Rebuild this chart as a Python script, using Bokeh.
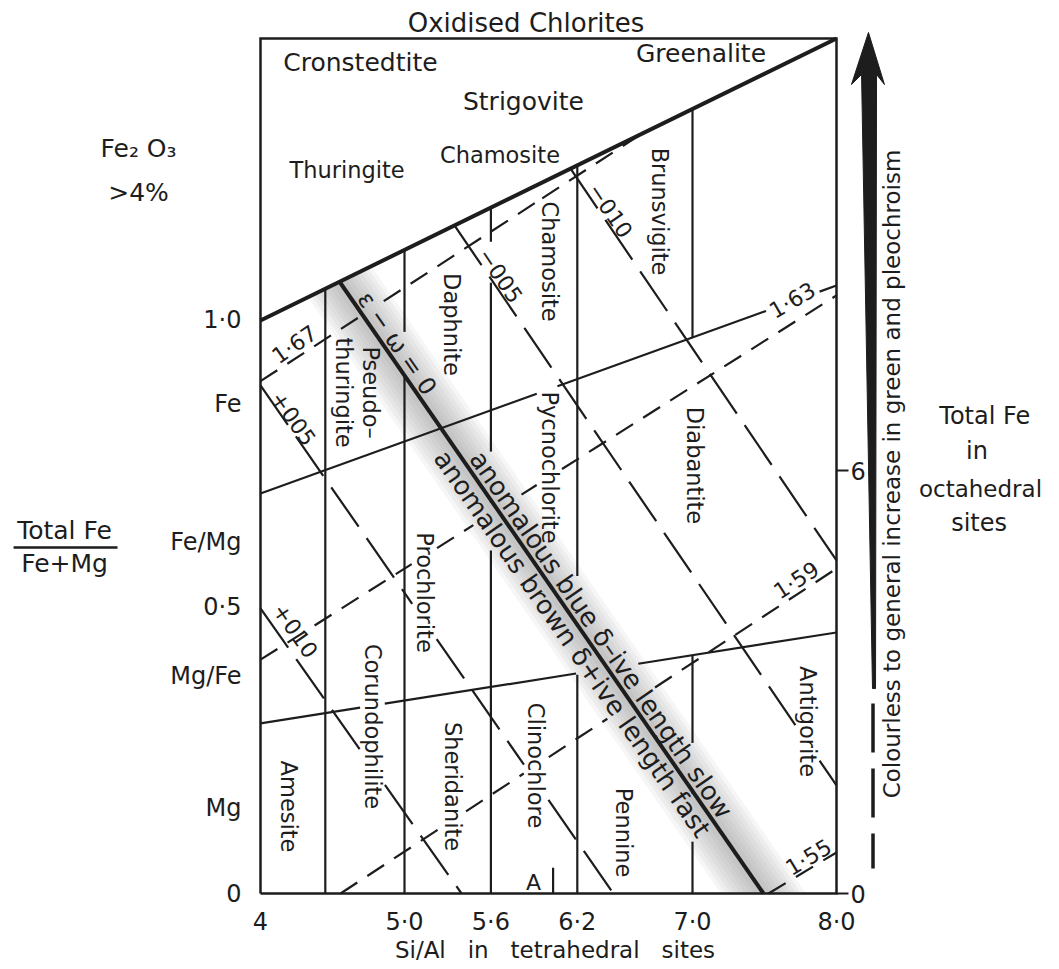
import math
import numpy as np
from bokeh.plotting import figure
from bokeh.models import (Range1d, LinearAxis, FixedTicker, ColumnDataSource, CustomJSTickFormatter)
from bokeh.core.properties import value
from bokeh.embed import file_html
from bokeh.resources import INLINE

FONT = "DejaVu Sans"
INK = "#1d1d1d"

# ---------------- data ----------------
x_ticks = [4.0, 5.0, 5.6, 6.2, 7.0, 8.0]
x_tick_labels = ["4", "5·0", "5·6", "6·2", "7·0", "8·0"]
y_ticks = [0.0, 0.15, 0.38, 0.5, 0.613, 0.855, 1.0]
y_tick_labels = ["0", "Mg", "Mg/Fe", "0·5", "Fe/Mg", "Fe", "1·0"]
fe_ticks = [0, 6]
fe_top = 12.13          # total Fe in octahedral sites at the top of the box

x_lo, x_hi = 4.0, 8.0
y_lo, y_hi = 0.0, 1.492

# boundary of the oxidised chlorites (thick)
oxid_x = [4.0, 8.0]
oxid_y = [1.0, 1.492]

# Si/Al boundaries
si_lines = [4.45, 5.0, 5.6, 6.2]
si_split = 7.0

# Fe/Mg boundaries
fe_upper_x = [4.0, 8.0]
fe_upper_y = [0.698, 1.061]
fe_lower_x = [4.0, 8.0]
fe_lower_y = [0.297, 0.4555]

# refractive index lines (short dash)
ri_names = ["1·67", "1·63", "1·59", "1·55"]
ri_x = [[4.0, 6.667], [4.0, 8.0], [4.556, 8.0], [7.528, 8.0]]
ri_y = [[0.894, 1.329], [0.408, 1.0436], [0.0, 0.567], [0.0, 0.0716]]
ri_lab_x = [4.236, 7.694, 7.722, 7.806]
ri_lab_y = [0.958, 1.0348, 0.5462, 0.0628]
ri_lab_rot = [35, 30, 33, 31]

# birefringence lines (long dash)
bi_names = ["+005", "+010", "−005", "−010"]
bi_x = [[4.0, 6.451], [4.0, 5.396], [5.347, 8.0], [6.153, 8.0]]
bi_y = [[0.8866, 0.0], [0.4974, 0.0], [1.1657, 0.1885], [1.2648, 0.5812]]
bi_lab_x = [4.229, 4.243, 5.667, 6.431]
bi_lab_y = [0.8289, 0.4589, 1.0784, 1.1919]
bi_lab_rot = [-55, -55, -56, -56]

# epsilon - omega = 0 line
zero_x = [4.549, 7.493]
zero_y = [1.0675, 0.0]
band_text = ["ε − ω = 0", "anomalous blue δ–ive length slow", "anomalous brown δ+ive length fast"]
band_t = [0.112, 0.590, 0.578]
band_side = [1, 1, -1]
band_off = [12, 14, 15]
band_size = [24, 26, 26]

# small "A" marker
a_x = [6.032, 6.032]
a_y = [0.0, 0.045]

# mineral names
names = ["Cronstedtite", "Strigovite", "Greenalite", "Thuringite", "Chamosite",
         "Brunsvigite", "Chamosite", "Daphnite", "Pseudo–", "thuringite",
         "Pycnochlorite", "Diabantite", "Prochlorite", "Corundophilite", "Amesite",
         "Sheridanite", "Clinochlore", "Pennine", "Antigorite", "A"]
name_x = [4.694, 5.826, 7.059, 4.601, 5.663, 6.771, 6.007, 5.333, 4.764, 4.583,
          6.007, 7.014, 5.139, 4.778, 4.201, 5.340, 5.913, 6.521, 7.799, 5.896]
name_y = [1.4503, 1.3822, 1.4658, 1.2617, 1.2879, 1.1901, 1.1028, 0.9929, 0.8742, 0.8742,
          0.7434, 0.7469, 0.5252, 0.2914, 0.1518, 0.1867, 0.2234, 0.1064, 0.3001, 0.0192]
name_rot = [0, 0, 0, 0, 0, -90, -90, -90, -90, -90,
            -90, -90, -90, -90, -90, -90, -90, -90, -90, 0]
name_size = [25, 25, 25, 22.5, 22.5, 22.5, 22.5, 22.5, 22.5, 22.5,
             22.5, 22.5, 22.5, 22.5, 22.5, 22.5, 22.5, 22.5, 22.5, 22]

# texts around the box
SP = " \u00a0\u00a0"
outer_text = ["Oxidised Chlorites", "Fe₂ O₃", ">4%", "Total Fe", "Fe+Mg",
              "Si/Al" + SP + "in" + SP + "tetrahedral" + SP + "sites",
              "Total Fe", "in", "octahedral", "sites",
              "Colourless to general increase in green and pleochroism"]
outer_x = [5.844, 3.153, 3.153, 2.639, 2.639, 6.045, 9.030, 8.975, 9.000, 8.990, 8.387]
outer_y = [1.5199, 1.3000, 1.2233, 0.6334, 0.5759, -0.0985, 0.8324, 0.7722, 0.7067, 0.6474, 0.7320]
outer_rot = [0, 0, 0, 0, 0, 0, 0, 0, 0, 0, 90]
outer_size = [26, 25, 25, 25, 25, 23, 24, 24, 23, 24, 23]

# fraction bar of the left axis title
frac_x = [2.285, 3.007]
frac_y = [0.6038, 0.6038]

# colour arrow at right
arrow_x = [8.222, 8.333, 8.278, 8.271, 8.250, 8.174, 8.104]
arrow_y = [1.5025, 1.4117, 1.4292, 0.3577, 0.3577, 1.4292, 1.4117]
arrow_dash_x = [8.2535, 8.2535]
arrow_dash_y = [0.3316, 0.0436]

# ---------------- layout helpers (screen px) ----------------
W, H = 1058, 968
PX0, PY0 = 260.0, 893.0          # screen position of (4, 0)
KX, KY = 144.0, 573.06           # px per data unit


def sx(x):
    return PX0 + (x - x_lo) * KX


def sy(y):
    return PY0 - y * KY


def dx(px):
    return x_lo + (px - PX0) / KX


def dy(py):
    return (PY0 - py) / KY


def text_w(s, fs):
    tot = 0.0
    for c in s:
        if c in "il|j":
            tot += 0.28
        elif c in "ft":
            tot += 0.38
        elif c == "r":
            tot += 0.41
        elif c in " ·/":
            tot += 0.32
        elif c in "mwω":
            tot += 0.9
        elif c == "M":
            tot += 0.86
        elif c in "+−=":
            tot += 0.84
        elif c.isdigit():
            tot += 0.636
        elif c.isupper():
            tot += 0.7
        else:
            tot += 0.61
    return tot * fs


def box(x, y, ang, s, fs):
    return (sx(x), sy(y), ang, text_w(s, fs), fs * 0.8)


def erase(xs, ys, boxes, pad=3.0):
    out = []
    for i in range(len(xs) - 1):
        x0, y0, x1, y1 = sx(xs[i]), sy(ys[i]), sx(xs[i + 1]), sy(ys[i + 1])
        n = int(math.hypot(x1 - x0, y1 - y0)) + 2
        t = np.linspace(0.0, 1.0, n)
        px = x0 + (x1 - x0) * t
        py = y0 + (y1 - y0) * t
        keep = np.ones(n, dtype=bool)
        for (cx, cy, a, w, h) in boxes:
            ux, uy = math.cos(a), -math.sin(a)
            vx, vy = math.sin(a), math.cos(a)
            ddx, ddy = px - cx, py - cy
            al = ddx * ux + ddy * uy
            pe = ddx * vx + ddy * vy
            keep &= ~((np.abs(al) < w / 2 + pad) & (np.abs(pe) < h / 2 + pad))
        j = 0
        while j < n:
            if keep[j]:
                k = j
                while k + 1 < n and keep[k + 1]:
                    k += 1
                if k > j:
                    out.append(([dx(px[j]), dx(px[k])], [dy(py[j]), dy(py[k])]))
                j = k + 1
            else:
                j += 1
    return out


# ---------------- figure: frame covers the whole canvas ----------------
p = figure(width=W, height=H, x_range=Range1d(dx(0), dx(W)), y_range=Range1d(dy(H), dy(0)),
           output_backend="svg", toolbar_location=None, title=None,
           min_border=0, min_border_left=0, min_border_right=0,
           min_border_top=0, min_border_bottom=0)
p.xgrid.grid_line_color = None
p.ygrid.grid_line_color = None
p.background_fill_color = "white"
p.border_fill_color = "white"
p.outline_line_color = None

fmt_code = """
for (let i = 0; i < vals.length; i++) { if (Math.abs(vals[i] - tick) < 1e-6) return labs[i]; }
return "";
"""
xa = p.xaxis[0]
xa.fixed_location = y_lo
xa.ticker = FixedTicker(ticks=x_ticks)
xa.formatter = CustomJSTickFormatter(args=dict(vals=x_ticks, labs=x_tick_labels), code=fmt_code)
ya = p.yaxis[0]
ya.fixed_location = x_lo
ya.ticker = FixedTicker(ticks=y_ticks)
ya.formatter = CustomJSTickFormatter(args=dict(vals=y_ticks, labs=y_tick_labels), code=fmt_code)
for ax in (xa, ya):
    ax.axis_line_color = None
    ax.major_tick_line_color = None
    ax.minor_tick_line_color = None
    ax.major_label_text_font = FONT
    ax.major_label_text_font_size = "24px"
    ax.major_label_text_color = INK
xa.major_label_standoff = 8
ya.major_label_standoff = 13

kfe = fe_top / y_hi
p.extra_y_ranges = {"fe": Range1d(dy(H) * kfe, dy(0) * kfe)}
ra = LinearAxis(y_range_name="fe", ticker=FixedTicker(ticks=fe_ticks), fixed_location=x_hi)
ra.axis_line_color = None
ra.minor_tick_line_color = None
ra.major_tick_in = 0
ra.major_tick_out = 12
ra.major_tick_line_width = 2
ra.major_tick_line_color = INK
ra.major_label_standoff = 2
ra.major_label_text_font = FONT
ra.major_label_text_font_size = "24px"
ra.major_label_text_color = INK
p.add_layout(ra, "right")

# ---------------- shaded band around epsilon-omega = 0 ----------------
P0 = np.array([sx(zero_x[0]), sy(zero_y[0])])
P1 = np.array([sx(zero_x[1]), sy(zero_y[1])])
dvec = (P1 - P0) / np.linalg.norm(P1 - P0)
nvec = np.array([dvec[1], -dvec[0]])  # points up-right
T0 = np.array([sx(oxid_x[0]), sy(oxid_y[0])])
T1 = np.array([sx(oxid_x[1]), sy(oxid_y[1])])
B0 = np.array([sx(x_lo), sy(y_lo)])
B1 = np.array([sx(x_hi), sy(y_lo)])


def intersect(a, da, b, db):
    m = np.array([[da[0], -db[0]], [da[1], -db[1]]])
    s = np.linalg.solve(m, b - a)
    return a + s[0] * da


for d in [35, 31, 27, 23, 19, 15, 11, 7]:
    pts = []
    for off in (-d, d):
        base = P0 + off * nvec
        pts.append((intersect(base, dvec, T0, T1 - T0), intersect(base, dvec, B0, B1 - B0)))
    quad = [pts[0][0], pts[1][0], pts[1][1], pts[0][1]]
    p.patch([dx(q[0]) for q in quad], [dy(q[1]) for q in quad],
            fill_color="#808080", fill_alpha=0.075, line_color=None)

# ---------------- text boxes for line interruption ----------------
zero_ang = -math.atan2(P1[1] - P0[1], P1[0] - P0[0])
band_x, band_y = [], []
for t, side, off in zip(band_t, band_side, band_off):
    c = P0 + t * (P1 - P0) + side * off * nvec
    band_x.append(dx(c[0]))
    band_y.append(dy(c[1]))

name_boxes = [box(x, y, math.radians(r), s, fs) for x, y, r, s, fs in
              zip(name_x, name_y, name_rot, names, name_size)]
band_boxes = [box(x, y, zero_ang, s, fs) for x, y, s, fs in zip(band_x, band_y, band_text, band_size)]
idx_boxes = [box(x, y, math.radians(r), s, 22) for x, y, r, s in
             zip(ri_lab_x + bi_lab_x, ri_lab_y + bi_lab_y, ri_lab_rot + bi_lab_rot, ri_names + bi_names)]
all_boxes = name_boxes + band_boxes + idx_boxes
dash_boxes = name_boxes + band_boxes

# ---------------- box frame ----------------
p.line([x_lo, x_hi, x_hi, x_lo, x_lo], [y_lo, y_lo, y_hi, y_hi, y_lo],
       line_color=INK, line_width=2.5, line_join="miter")

# ---------------- thin solid lines ----------------
solid = []
for xv in si_lines:
    top = float(np.interp(xv, oxid_x, oxid_y))
    solid += erase([xv, xv], [0.0, top], all_boxes)
top7 = float(np.interp(si_split, oxid_x, oxid_y))
up7 = float(np.interp(si_split, fe_upper_x, fe_upper_y))
lo7 = float(np.interp(si_split, fe_lower_x, fe_lower_y))
solid += erase([si_split, si_split], [up7, top7], all_boxes)
solid += erase([si_split, si_split], [0.0, lo7], all_boxes)
solid += erase(fe_upper_x, fe_upper_y, all_boxes)
solid += erase(fe_lower_x, fe_lower_y, all_boxes)
p.multi_line([s[0] for s in solid], [s[1] for s in solid], line_color=INK, line_width=2.2)
p.line(a_x, a_y, line_color=INK, line_width=2.2)

short = []
for xs_, ys_ in zip(ri_x, ri_y):
    short += erase(xs_, ys_, dash_boxes)
p.multi_line([s[0] for s in short], [s[1] for s in short], line_color=INK, line_width=2.2,
             line_dash="20 12")

longd = []
for xs_, ys_ in zip(bi_x, bi_y):
    longd += erase(xs_, ys_, dash_boxes)
p.multi_line([s[0] for s in longd], [s[1] for s in longd], line_color=INK, line_width=2.2,
             line_dash="48 14")

# thick lines
p.line(oxid_x, oxid_y, line_color=INK, line_width=4)
p.line(zero_x, zero_y, line_color=INK, line_width=4)

# right-hand colour arrow and its dashed tail, fraction bar
p.patch(arrow_x, arrow_y, fill_color=INK, line_color=INK, line_width=1)
p.line(arrow_dash_x, arrow_dash_y, line_color=INK, line_width=3.5, line_dash="49 16")
p.line(frac_x, frac_y, line_color=INK, line_width=2.5)

# ---------------- texts ----------------
src = ColumnDataSource(dict(
    x=name_x + ri_lab_x + bi_lab_x + band_x + outer_x,
    y=name_y + ri_lab_y + bi_lab_y + band_y + outer_y,
    text=names + ri_names + bi_names + band_text + outer_text,
    ang=[math.radians(r) for r in name_rot + ri_lab_rot + bi_lab_rot] + [zero_ang] * 3
        + [math.radians(r) for r in outer_rot],
    fs=["%gpx" % s for s in name_size] + ["22px"] * 8 + ["%gpx" % s for s in band_size]
       + ["%gpx" % s for s in outer_size],
))
p.text(x="x", y="y", text="text", angle="ang", source=src, text_font=value(FONT),
       text_font_size="fs", text_align="center", text_baseline="middle", text_color=INK)

open("out.html", "w").write(file_html(p, INLINE))
